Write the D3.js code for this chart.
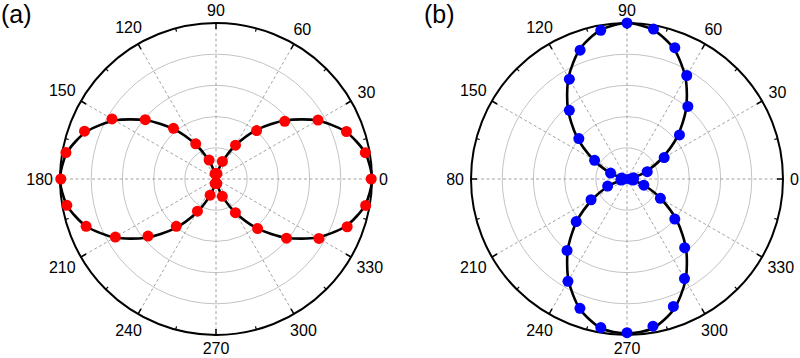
<!DOCTYPE html>
<html><head><meta charset="utf-8">
<script src="https://cdn.jsdelivr.net/npm/d3@7"></script>
<style>body{margin:0;background:#fff}svg{display:block}</style>
</head><body>
<svg id="c" width="800" height="358"></svg>
<script>
const angles = [0,10,20,30,40,50,60,70,80,90,100,110,120,130,140,150,160,170,180,190,200,210,220,230,240,250,260,270,280,290,300,310,320,330,340,350];
const redValues = [0.995,0.972,0.89,0.755,0.575,0.405,0.25,0.12,0.035,0.03,0.035,0.129,0.26,0.424,0.592,0.77,0.897,0.977,0.995,0.971,0.886,0.745,0.569,0.396,0.238,0.11,0.03,0.025,0.03,0.118,0.249,0.415,0.59,0.762,0.895,0.974];
const redFit = [1.0,0.97,0.885,0.75,0.585,0.415,0.25,0.115,0.03,0.0,0.03,0.115,0.25,0.415,0.585,0.75,0.885,0.97,1.0,0.97,0.885,0.75,0.585,0.415,0.25,0.115,0.03,0.0,0.03,0.115,0.25,0.415,0.585,0.75,0.885,0.97];
const blueValues = [0.02,0.043,0.138,0.275,0.439,0.607,0.766,0.896,0.976,1.0,0.968,0.879,0.739,0.575,0.403,0.24,0.112,0.036,0.02,0.04,0.132,0.266,0.425,0.598,0.757,0.882,0.967,0.985,0.958,0.869,0.737,0.575,0.40,0.247,0.115,0.04];
const blueFit = [0.0,0.03,0.117,0.25,0.42,0.59,0.75,0.885,0.97,1.0,0.97,0.885,0.75,0.59,0.42,0.25,0.117,0.03,0.0,0.03,0.117,0.25,0.42,0.59,0.75,0.885,0.97,0.99,0.97,0.885,0.75,0.59,0.42,0.25,0.117,0.03];
const tickLabels = ["0","30","60","90","120","150","180","210","240","270","300","330"];
const labelAngles = [0,30,60,90,120,150,180,210,240,270,300,330];
const minorAngles = [15,45,75,105,135,165,195,225,255,285,315,345];
const gridLevels = [0.2,0.4,0.6,0.8];
const panels = [
  {name:"(a)", cx:216, cy:179, values:redValues, fit:redFit, color:"#ff0000", lx:1, clip:null},
  {name:"(b)", cx:627, cy:179, values:blueValues, fit:blueFit, color:"#0000ff", lx:424, clip:447}
];
const R = 156;
const svg = d3.select("#c");
const rScale = d3.scaleLinear().domain([0,1]).range([0,R]);
const aScale = d3.scaleLinear().domain([0,360]).range([0,2*Math.PI]);
const defs = svg.append("defs");

panels.forEach((p,pi)=>{
  const g = svg.append("g").attr("transform",`translate(${p.cx},${p.cy})`);
  const pt = (deg,v)=>{const a=aScale(deg);return [rScale(v)*Math.cos(a), -rScale(v)*Math.sin(a)];};
  g.selectAll("circle.grid").data(gridLevels).join("circle")
    .attr("r",d=>rScale(d)).attr("fill","none").attr("stroke","#b4b4b4").attr("stroke-width",0.8);
  g.selectAll("line.spoke").data(labelAngles).join("line")
    .attr("x1",0).attr("y1",0)
    .attr("x2",d=>pt(d,1)[0]).attr("y2",d=>pt(d,1)[1])
    .attr("stroke","#8c8c8c").attr("stroke-width",0.8).attr("stroke-dasharray","3,2.5");
  g.append("circle").attr("r",R).attr("fill","none").attr("stroke","#000").attr("stroke-width",2);
  g.selectAll("line.maj").data(labelAngles).join("line")
    .attr("x1",d=>pt(d,1)[0]).attr("y1",d=>pt(d,1)[1])
    .attr("x2",d=>pt(d,(R-6)/R)[0]).attr("y2",d=>pt(d,(R-6)/R)[1])
    .attr("stroke","#000").attr("stroke-width",1.5);
  g.selectAll("line.min").data(minorAngles).join("line")
    .attr("x1",d=>pt(d,1)[0]).attr("y1",d=>pt(d,1)[1])
    .attr("x2",d=>pt(d,(R-3.5)/R)[0]).attr("y2",d=>pt(d,(R-3.5)/R)[1])
    .attr("stroke","#000").attr("stroke-width",1.2);
  const line = d3.lineRadial()
    .angle((d,i)=>Math.PI/2 - aScale(angles[i]))
    .radius(d=>rScale(d))
    .curve(d3.curveCardinalClosed.tension(0.2));
  g.append("path").attr("d",line(p.fit)).attr("fill","none").attr("stroke","#000").attr("stroke-width",2.6);
  g.selectAll("circle.pt").data(p.values).join("circle")
    .attr("cx",(d,i)=>pt(angles[i],d)[0]).attr("cy",(d,i)=>pt(angles[i],d)[1])
    .attr("r",5.5).attr("fill",p.color);
  let lg = g.append("g");
  if(p.clip!==null){
    defs.append("clipPath").attr("id","clip"+pi).append("rect")
      .attr("x",p.clip-p.cx).attr("y",-p.cy).attr("width",800).attr("height",358);
    lg.attr("clip-path",`url(#clip${pi})`);
  }
  labelAngles.forEach((deg,i)=>{
    const t = lg.append("text").text(tickLabels[i])
      .attr("font-family","Liberation Sans, Arial, sans-serif").attr("font-size",16)
      .attr("text-anchor","middle").attr("dominant-baseline","central").attr("fill","#000");
    const w = t.node().getComputedTextLength();
    const a = aScale(deg);
    const dist = R + 7 + Math.abs(Math.cos(a))*w/2 + Math.abs(Math.sin(a))*6;
    t.attr("x",dist*Math.cos(a)).attr("y",-dist*Math.sin(a));
  });
  svg.append("text").text(p.name).attr("x",p.lx).attr("y",23)
    .attr("font-family","Liberation Sans, Arial, sans-serif").attr("font-size",25).attr("fill","#000");
});
</script>
</body></html>
